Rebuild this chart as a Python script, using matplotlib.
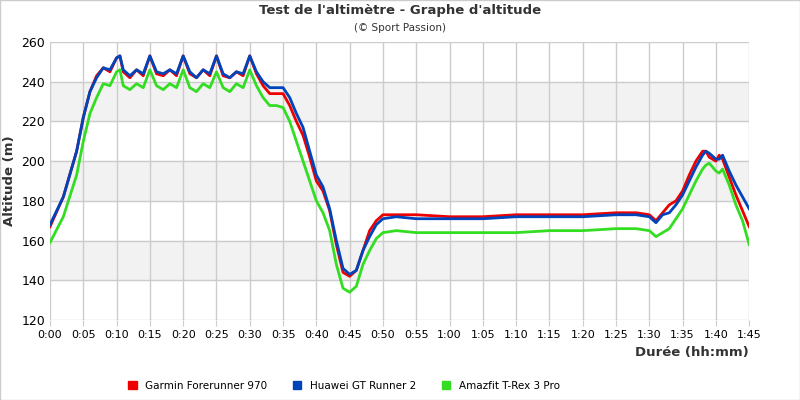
import matplotlib
matplotlib.use("Agg")
import matplotlib.pyplot as plt
import numpy as np

t = [0,2,4,5,6,7,8,9,10,10.5,11,12,13,14,15,16,17,18,19,20,21,22,23,24,25,26,27,28,29,30,31,32,33,34,35,36,37,38,39,40,41,42,43,44,45,46,47,48,49,50,52,55,60,65,70,75,80,85,88,90,91,92,93,94,95,96,97,98,98.5,99,100,100.5,101,102,103,104,105]
huawei = [168,182,205,222,235,242,247,246,252,253,246,243,246,244,253,245,244,246,244,253,245,242,246,244,253,244,242,245,244,253,245,240,237,237,237,232,224,217,205,193,187,176,160,146,143,145,155,162,168,171,172,171,171,171,172,172,172,173,173,172,169,173,174,178,183,190,197,203,205,204,201,201,203,195,188,182,176]
garmin = [167,182,205,222,235,243,247,245,252,253,245,242,246,243,253,244,243,246,243,253,244,242,246,243,253,243,242,245,243,253,244,238,234,234,234,228,220,213,202,190,185,175,158,144,142,145,155,165,170,173,173,173,172,172,173,173,173,174,174,173,170,174,178,180,185,193,200,205,205,202,200,203,201,192,183,175,167]
amazfit = [159,172,193,210,224,232,239,238,245,246,238,236,239,237,246,238,236,239,237,246,237,235,239,237,245,237,235,239,237,246,238,232,228,228,227,220,210,200,190,180,174,165,148,136,134,137,148,155,161,164,165,164,164,164,164,165,165,166,166,165,162,164,166,171,176,183,190,196,198,199,195,194,196,188,178,170,158]
xticks = list(range(0,106,5))
xlabels = [f"{m//60}:{m%60:02d}" for m in xticks]

fig = plt.figure(figsize=(8,4), dpi=100)
ax = fig.add_axes([0.0625, 0.2, 0.874, 0.695])
for lo in (140,180,220):
    ax.axhspan(lo, lo+20, color='#f2f2f2', zorder=0)
ax.grid(True, color='#cccccc', lw=1, zorder=1)
ax.set_axisbelow(True)
ax.plot(t, garmin, color='#ee0000', lw=2, label='Garmin Forerunner 970', zorder=3)
ax.plot(t, huawei, color='#0044bb', lw=2, label='Huawei GT Runner 2', zorder=4)
ax.plot(t, amazfit, color='#33dd22', lw=2, label='Amazfit T-Rex 3 Pro', zorder=3)
ax.set_xlim(0,105); ax.set_ylim(120,260)
ax.set_xticks(xticks); ax.set_xticklabels(xlabels, fontsize=8)
ax.set_yticks(range(120,261,20))
ax.tick_params(axis='y', labelsize=9, length=0)
ax.tick_params(axis='x', length=4, color='#cccccc')
for s in ax.spines.values(): s.set_visible(False)
ax.set_ylabel('Altitude (m)', fontsize=9.5, fontweight='bold', color='#333333')
ax.set_xlabel('Durée (hh:mm)', fontsize=9.5, fontweight='bold', color='#333333', loc='right')
fig.text(0.5, 0.965, "Test de l'altimètre - Graphe d'altitude", ha='center', fontsize=9.5, fontweight='bold', color='#333333')
fig.text(0.5, 0.922, "(© Sport Passion)", ha='center', fontsize=7.5, color='#333333')
fig.legend(loc='lower center', ncol=3, bbox_to_anchor=(0.43, 0.0), frameon=False, fontsize=7.5,
           handlelength=0.8, handleheight=0.8, columnspacing=2.5,
           handles=[plt.Rectangle((0,0),1,1,color=c) for c in ('#ee0000','#0044bb','#33dd22')],
           labels=['Garmin Forerunner 970','Huawei GT Runner 2','Amazfit T-Rex 3 Pro'])
fig.patches.append(plt.Rectangle((0,0),1,1, transform=fig.transFigure, fill=False, ec='#cccccc', lw=1))
fig.savefig('out.png')
